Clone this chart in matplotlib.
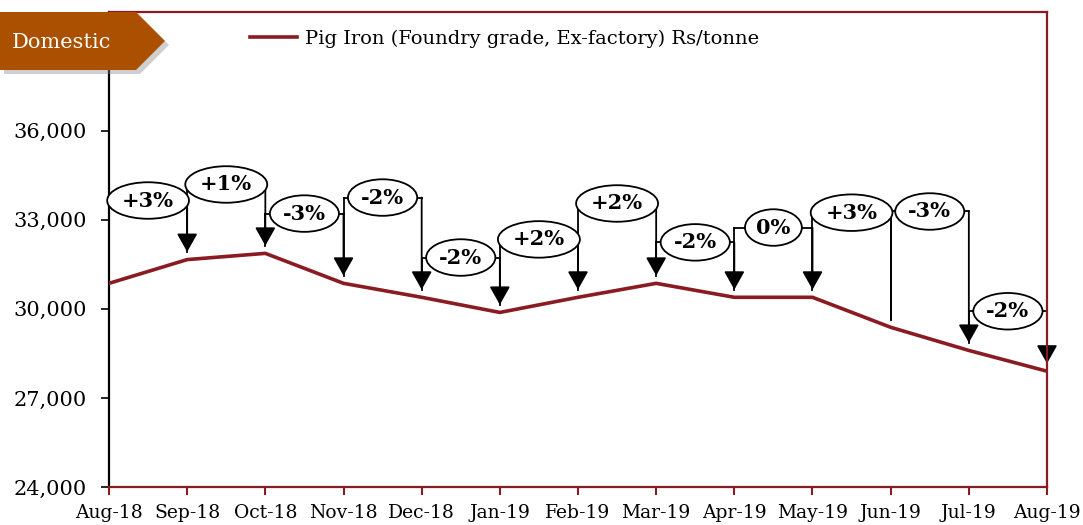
import matplotlib
matplotlib.use("Agg")
import matplotlib.pyplot as plt
from matplotlib.patches import Polygon
from matplotlib.ticker import FuncFormatter

plt.rcParams['font.family'] = ['DejaVu Serif']

# data
months = ["Aug-18", "Sep-18", "Oct-18", "Nov-18", "Dec-18", "Jan-19", "Feb-19",
          "Mar-19", "Apr-19", "May-19", "Jun-19", "Jul-19", "Aug-19"]
price = [30860, 31660, 31870, 30860, 30390, 29880, 30390,
         30860, 30390, 30390, 29380, 28600, 27900]
change_labels = ["+3%", "+1%", "-3%", "-2%", "-2%", "+2%",
                 "+2%", "-2%", "0%", "+3%", "-3%", "-2%"]
# height of each bracket (where the ellipse sits)
label_level = [33650, 34190, 33210, 33750, 31730, 32340,
               33550, 32240, 32740, 33240, 33280, 29920]
# arrow head at the end of the bracket?
arrow_head = [True, True, True, True, True, True,
              True, True, True, False, True, True]
legend_label = "Pig Iron (Foundry grade, Ex-factory) Rs/tonne"
yticks = [24000, 27000, 30000, 33000, 36000]

red = '#8a1b22'
tip_gap = 260  # space between arrow tip and the line

fig = plt.figure(figsize=(10.83, 5.25), dpi=100)
ax = fig.add_axes([109 / 1083, 1 - 487 / 525, 938 / 1083, 475 / 525])

x = list(range(len(months)))
ax.plot(x, price, color=red, lw=2.6, label=legend_label, zorder=3)

# bracket arrows with % change
for k, lab in enumerate(change_labels):
    x0, x1 = k, k + 1
    yl = label_level[k]
    ax.plot([x0, x1], [yl, yl], color='black', lw=1.3, zorder=2)
    ax.plot([x0, x0], [yl, price[x0] + tip_gap], color='black', lw=1.3, zorder=2)
    if arrow_head[k]:
        ax.annotate('', xy=(x1, price[x1] + tip_gap), xytext=(x1, yl),
                    arrowprops=dict(arrowstyle='-|>,head_length=0.8,head_width=0.45',
                                    mutation_scale=14, lw=1.3, color='black',
                                    shrinkA=0, shrinkB=0), zorder=2)
    else:
        ax.plot([x1, x1], [yl, price[x1] + tip_gap], color='black', lw=1.3, zorder=2)
    ax.text(k + 0.5, yl, lab, ha='center', va='center', fontsize=15,
            fontweight='bold', zorder=5,
            bbox=dict(boxstyle='ellipse,pad=0.14', fc='white', ec='black', lw=1.3))

ax.set_xlim(0, 12)
ax.set_ylim(24000, 40000)
ax.set_xticks(x)
ax.set_xticklabels(months, fontsize=13.5)
ax.set_yticks(yticks)
ax.yaxis.set_major_formatter(FuncFormatter(lambda v, p: f"{int(v):,}"))
ax.tick_params(axis='y', labelsize=15, length=6, width=1.2, color='black', pad=10)
ax.tick_params(axis='x', length=6, width=1.5, color=red, pad=6)

for s in ['top', 'right', 'bottom']:
    ax.spines[s].set_color(red)
    ax.spines[s].set_linewidth(1.6)
ax.spines['left'].set_color('black')
ax.spines['left'].set_linewidth(1.6)

ax.legend(loc='upper left', bbox_to_anchor=(250 / 1083, 1 - 30 / 525),
          bbox_transform=fig.transFigure, frameon=False, fontsize=14,
          handlelength=2.4, handletextpad=0.45, borderpad=0, borderaxespad=0)

# "Domestic" tag in the corner
def px(xp, yp):
    return (xp / 1083, 1 - yp / 525)

tag = [px(0, 12), px(136, 12), px(165, 41), px(136, 70), px(0, 70)]
shadow = [(a + 4 / 1083, b - 4 / 525) for a, b in tag]
fig.add_artist(Polygon(shadow, closed=True, transform=fig.transFigure,
                       fc='#888888', ec='none', alpha=0.4, zorder=10))
fig.add_artist(Polygon(tag, closed=True, transform=fig.transFigure,
                       fc='#ab5000', ec='none', zorder=11))
fig.text(61 / 1083, 1 - 42 / 525, "Domestic", color='white', fontsize=15,
         ha='center', va='center', zorder=12)

fig.savefig("out.png", dpi=100)
